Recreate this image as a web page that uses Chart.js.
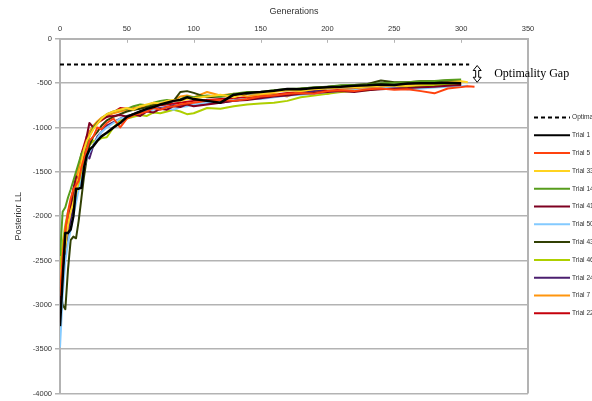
<!DOCTYPE html>
<html>
<head>
<meta charset="utf-8">
<script src="https://cdn.jsdelivr.net/npm/chart.js@4"></script>
<style>
    html, body { margin: 0; padding: 0; background: #ffffff; overflow: hidden; }
</style>
</head>
<body>
<canvas id="gaChart" width="592" height="401"></canvas>
<script>
const gens = [0, 2, 4, 6, 8, 10, 12, 14, 16, 18, 20, 22, 25, 28, 31, 35, 40, 45, 50, 55,
              60, 65, 70, 75, 80, 85, 90, 95, 100, 110, 120, 130, 140, 150, 160, 170, 180, 190,
              200, 210, 220, 230, 240, 250, 260, 270, 280, 290, 300, 305, 310];

// optimal posterior (dashed line)
const optimalGens   = [0, 306];
const optimalValues = [-290, -290];

// posterior LL per trial
const trial1  = [-3240, -2700, -2190, -2190, -2150, -2000, -1690, -1690, -1680, -1450, -1320, -1250, -1210, -1150, -1100, -1060, -1000, -950, -880, -850,
                 -820, -790, -770, -740, -720, -700, -690, -660, -680, -700, -720, -630, -610, -600, -585, -565, -570, -555,
                 -545, -540, -530, -525, -515, -520, -505, -500, -500, -495, -500, null, null];
const trial5  = [-2900, -2450, -2150, -1950, -1800, -1700, -1650, -1600, -1450, -1350, -1250, -1150, -1100, -1000, -1020, -950, -900, -1000, -900, -860,
                 -840, -820, -780, -800, -770, -760, -740, -730, -720, -700, -690, -700, -680, -650, -640, -620, -610, -620,
                 -590, -580, -590, -570, -560, -575, -570, -590, -615, -560, -545, -535, -540];
const trial33 = [-2750, -2500, -2350, -2100, -1950, -1850, -1750, -1550, -1400, -1250, -1150, -1100, -1020, -960, -900, -850, -820, -800, -780, -800,
                 -760, -740, -720, -730, -700, -690, -700, -680, -670, -650, -630, -660, -610, -620, -600, -580, -590, -570,
                 -560, -550, -545, -540, -530, -525, -530, -515, -510, -490, -480, -490, null];
const trial14 = [-2450, -1950, -1900, -1790, -1700, -1600, -1500, -1400, -1300, -1250, -1200, -1100, -1000, -950, -900, -850, -820, -800, -790, -760,
                 -740, -750, -720, -700, -690, -700, -680, -650, -660, -640, -650, -620, -600, -600, -580, -565, -560, -550,
                 -540, -525, -520, -515, -500, -495, -490, -480, -475, -465, -460, null, null];
const trial41 = [-3000, -2600, -2300, -2100, -1900, -1700, -1550, -1580, -1400, -1300, -1100, -950, -1000, -950, -900, -880, -870, -860, -880, -850,
                 -870, -820, -830, -790, -800, -760, -770, -740, -760, -740, -720, -700, -690, -670, -650, -640, -620, -610,
                 -600, -590, -600, -580, -570, -560, -555, -545, -540, -530, -520, null, null];
const trial50 = [-3480, -2900, -2500, -2300, -2150, -2000, -1850, -1700, -1600, -1450, -1350, -1280, -1200, -1120, -1050, -1000, -950, -900, -880, -850,
                 -830, -810, -800, -790, -780, -800, -770, -760, -740, -720, -700, -690, -680, -680, -660, -640, -630, -620,
                 -600, -590, -580, -570, -560, -550, -570, -560, -550, -540, -535, -530, null];
const trial43 = [-2800, -3000, -3050, -2600, -2270, -2230, -2250, -2050, -1800, -1550, -1350, -1200, -1100, -1050, -980, -920, -880, -850, -820, -800,
                 -790, -770, -750, -740, -730, -700, -600, -590, -610, -660, -650, -640, -620, -610, -590, -580, -560, -550,
                 -540, -530, -520, -510, -470, -490, -490, -480, -480, -470, -480, null, null];
const trial46 = [-2600, -2300, -2100, -1950, -1850, -1800, -1750, -1650, -1500, -1350, -1250, -1200, -1150, -1150, -1120, -1110, -1000, -920, -900, -880,
                 -860, -870, -830, -840, -820, -800, -820, -850, -840, -780, -790, -760, -740, -730, -720, -700, -660, -640,
                 -620, -600, -590, -580, -560, -550, -545, -535, -525, -515, -510, null, null];
const trial24 = [-3000, -2700, -2400, -2200, -2050, -1900, -1750, -1600, -1450, -1350, -1300, -1350, -1200, -1100, -1050, -980, -940, -900, -870, -850,
                 -820, -800, -790, -780, -770, -750, -760, -740, -750, -730, -720, -700, -680, -660, -640, -630, -610, -590,
                 -560, -550, -545, -540, -530, -520, -515, -510, -500, -490, -490, null, null];
const trial7  = [-2850, -2550, -2250, -2050, -1900, -1750, -1600, -1450, -1350, -1250, -1150, -1050, -980, -930, -890, -860, -840, -820, -800, -780,
                 -770, -750, -740, -730, -720, -700, -650, -640, -660, -600, -640, -620, -650, -630, -620, -650, -590, -600,
                 -620, -580, -570, -555, -545, -540, -530, -525, -520, -510, -505, null, null];
const trial22 = [-3200, -2600, -2200, -2000, -1850, -1700, -1600, -1450, -1300, -1200, -1100, -1050, -1000, -950, -920, -880, -830, -780, -790, -800,
                 -780, -760, -770, -750, -740, -730, -720, -710, -700, -690, -680, -670, -660, -640, -630, -610, -600, -590,
                 -590, -575, -570, -560, -555, -545, -540, -535, -525, -520, -515, null, null];

// legend labels, colours and series in drawing order
const trialLabels = ['Trial 1', 'Trial 5', 'Trial 33', 'Trial 14', 'Trial 41', 'Trial 50',
                     'Trial 43', 'Trial 46', 'Trial 24', 'Trial 7', 'Trial 22'];
const trialColors = ['#000000', '#ff420e', '#ffd320', '#579d1c', '#7e0021', '#83caff',
                     '#314004', '#aecf00', '#4b1f6f', '#ff950e', '#c5000b'];
const trialSeries = [trial1, trial5, trial33, trial14, trial41, trial50,
                     trial43, trial46, trial24, trial7, trial22];

const axisColor = '#b3b3b3';
const textColor = '#333333';

// turn gens + values into {x, y} points
function toPoints(xs, ys) {
    return xs.map(function(g, i) {
        return { x: g, y: ys[i] };
    });
}

const datasets = [{
    label: 'Optimal',
    data: toPoints(optimalGens, optimalValues),
    borderColor: '#000000',
    borderWidth: 2,
    borderDash: [4, 3]
}];
trialSeries.forEach(function(series, i) {
    datasets.push({
        label: trialLabels[i],
        data: toPoints(gens, series),
        borderColor: trialColors[i],
        borderWidth: i === 0 ? 2.5 : 2
    });
});

// extra drawing: inner ticks on the top axis, right frame, annotation and legend
const extrasPlugin = {
    id: 'extras',
    afterDraw: function(chart) {
        const ctx = chart.ctx;
        const area = chart.chartArea;
        const xs = chart.scales.x;
        const ys = chart.scales.y;

        ctx.save();
        ctx.strokeStyle = axisColor;
        ctx.lineWidth = 1;
        xs.ticks.forEach(function(t) {
            const px = Math.round(xs.getPixelForValue(t.value)) + 0.5;
            ctx.beginPath();
            ctx.moveTo(px, area.top);
            ctx.lineTo(px, area.top + 4);
            ctx.stroke();
        });
        ctx.lineWidth = 2;
        ctx.beginPath();
        ctx.moveTo(area.right, area.top);
        ctx.lineTo(area.right, area.bottom);
        ctx.stroke();

        // optimality gap double arrow
        const ax = xs.getPixelForValue(312);
        const y1 = ys.getPixelForValue(-290) + 1;
        const y2 = ys.getPixelForValue(-490);
        const hw = 4, sw = 1.5, hh = 5;
        ctx.beginPath();
        ctx.moveTo(ax, y1);
        ctx.lineTo(ax + hw, y1 + hh);
        ctx.lineTo(ax + sw, y1 + hh);
        ctx.lineTo(ax + sw, y2 - hh);
        ctx.lineTo(ax + hw, y2 - hh);
        ctx.lineTo(ax, y2);
        ctx.lineTo(ax - hw, y2 - hh);
        ctx.lineTo(ax - sw, y2 - hh);
        ctx.lineTo(ax - sw, y1 + hh);
        ctx.lineTo(ax - hw, y1 + hh);
        ctx.closePath();
        ctx.fillStyle = '#ffffff';
        ctx.fill();
        ctx.strokeStyle = '#000000';
        ctx.lineWidth = 1;
        ctx.stroke();

        ctx.fillStyle = '#000000';
        ctx.font = '12px "Liberation Serif"';
        ctx.textBaseline = 'middle';
        ctx.textAlign = 'left';
        ctx.fillText('Optimality Gap', ax + 17, (y1 + y2) / 2);

        // legend
        const lx = area.right + 6;
        const ly = 117.5;
        const step = 17.8;
        ctx.font = '6.6px "Liberation Sans"';
        ctx.fillStyle = textColor;
        chart.data.datasets.forEach(function(ds, i) {
            const y = ly + i * step;
            ctx.beginPath();
            ctx.setLineDash(ds.borderDash || []);
            ctx.strokeStyle = ds.borderColor;
            ctx.lineWidth = 2;
            ctx.moveTo(lx, y);
            ctx.lineTo(lx + 36, y);
            ctx.stroke();
            ctx.setLineDash([]);
            ctx.fillText(ds.label, lx + 38, y);
        });
        ctx.restore();
    }
};

const gaCtx = document.getElementById('gaChart').getContext('2d');
const gaChart = new Chart(gaCtx, {
    type: 'line',
    data: { datasets: datasets },
    plugins: [extrasPlugin],
    options: {
        responsive: false,
        animation: false,
        layout: {
            padding: { top: 6, left: 13, right: 64, bottom: 6 }
        },
        elements: {
            point: { radius: 0 },
            line: { tension: 0, borderJoinStyle: 'round' }
        },
        plugins: {
            legend: { display: false },
            tooltip: { enabled: false }
        },
        scales: {
            x: {
                type: 'linear',
                position: 'top',
                min: 0,
                max: 350,
                ticks: {
                    stepSize: 50,
                    padding: 5,
                    color: textColor,
                    font: { family: 'Liberation Sans', size: 7.5 }
                },
                grid: { display: false, drawTicks: false },
                border: { display: true, color: axisColor, width: 2 },
                title: {
                    display: true,
                    text: 'Generations',
                    color: textColor,
                    padding: { top: 0, bottom: 3 },
                    font: { family: 'Liberation Sans', size: 9 }
                }
            },
            y: {
                min: -4000,
                max: 0,
                ticks: {
                    stepSize: 500,
                    padding: 3,
                    color: textColor,
                    font: { family: 'Liberation Sans', size: 7.5 },
                    callback: function(value) {
                        return String(value);
                    }
                },
                grid: { color: axisColor, lineWidth: 1.5, tickLength: 5 },
                border: { color: axisColor, width: 2 },
                title: {
                    display: true,
                    text: 'Posterior LL',
                    color: textColor,
                    padding: { top: 0, bottom: 6 },
                    font: { family: 'Liberation Sans', size: 9 }
                }
            }
        }
    }
});
</script>
</body>
</html>
